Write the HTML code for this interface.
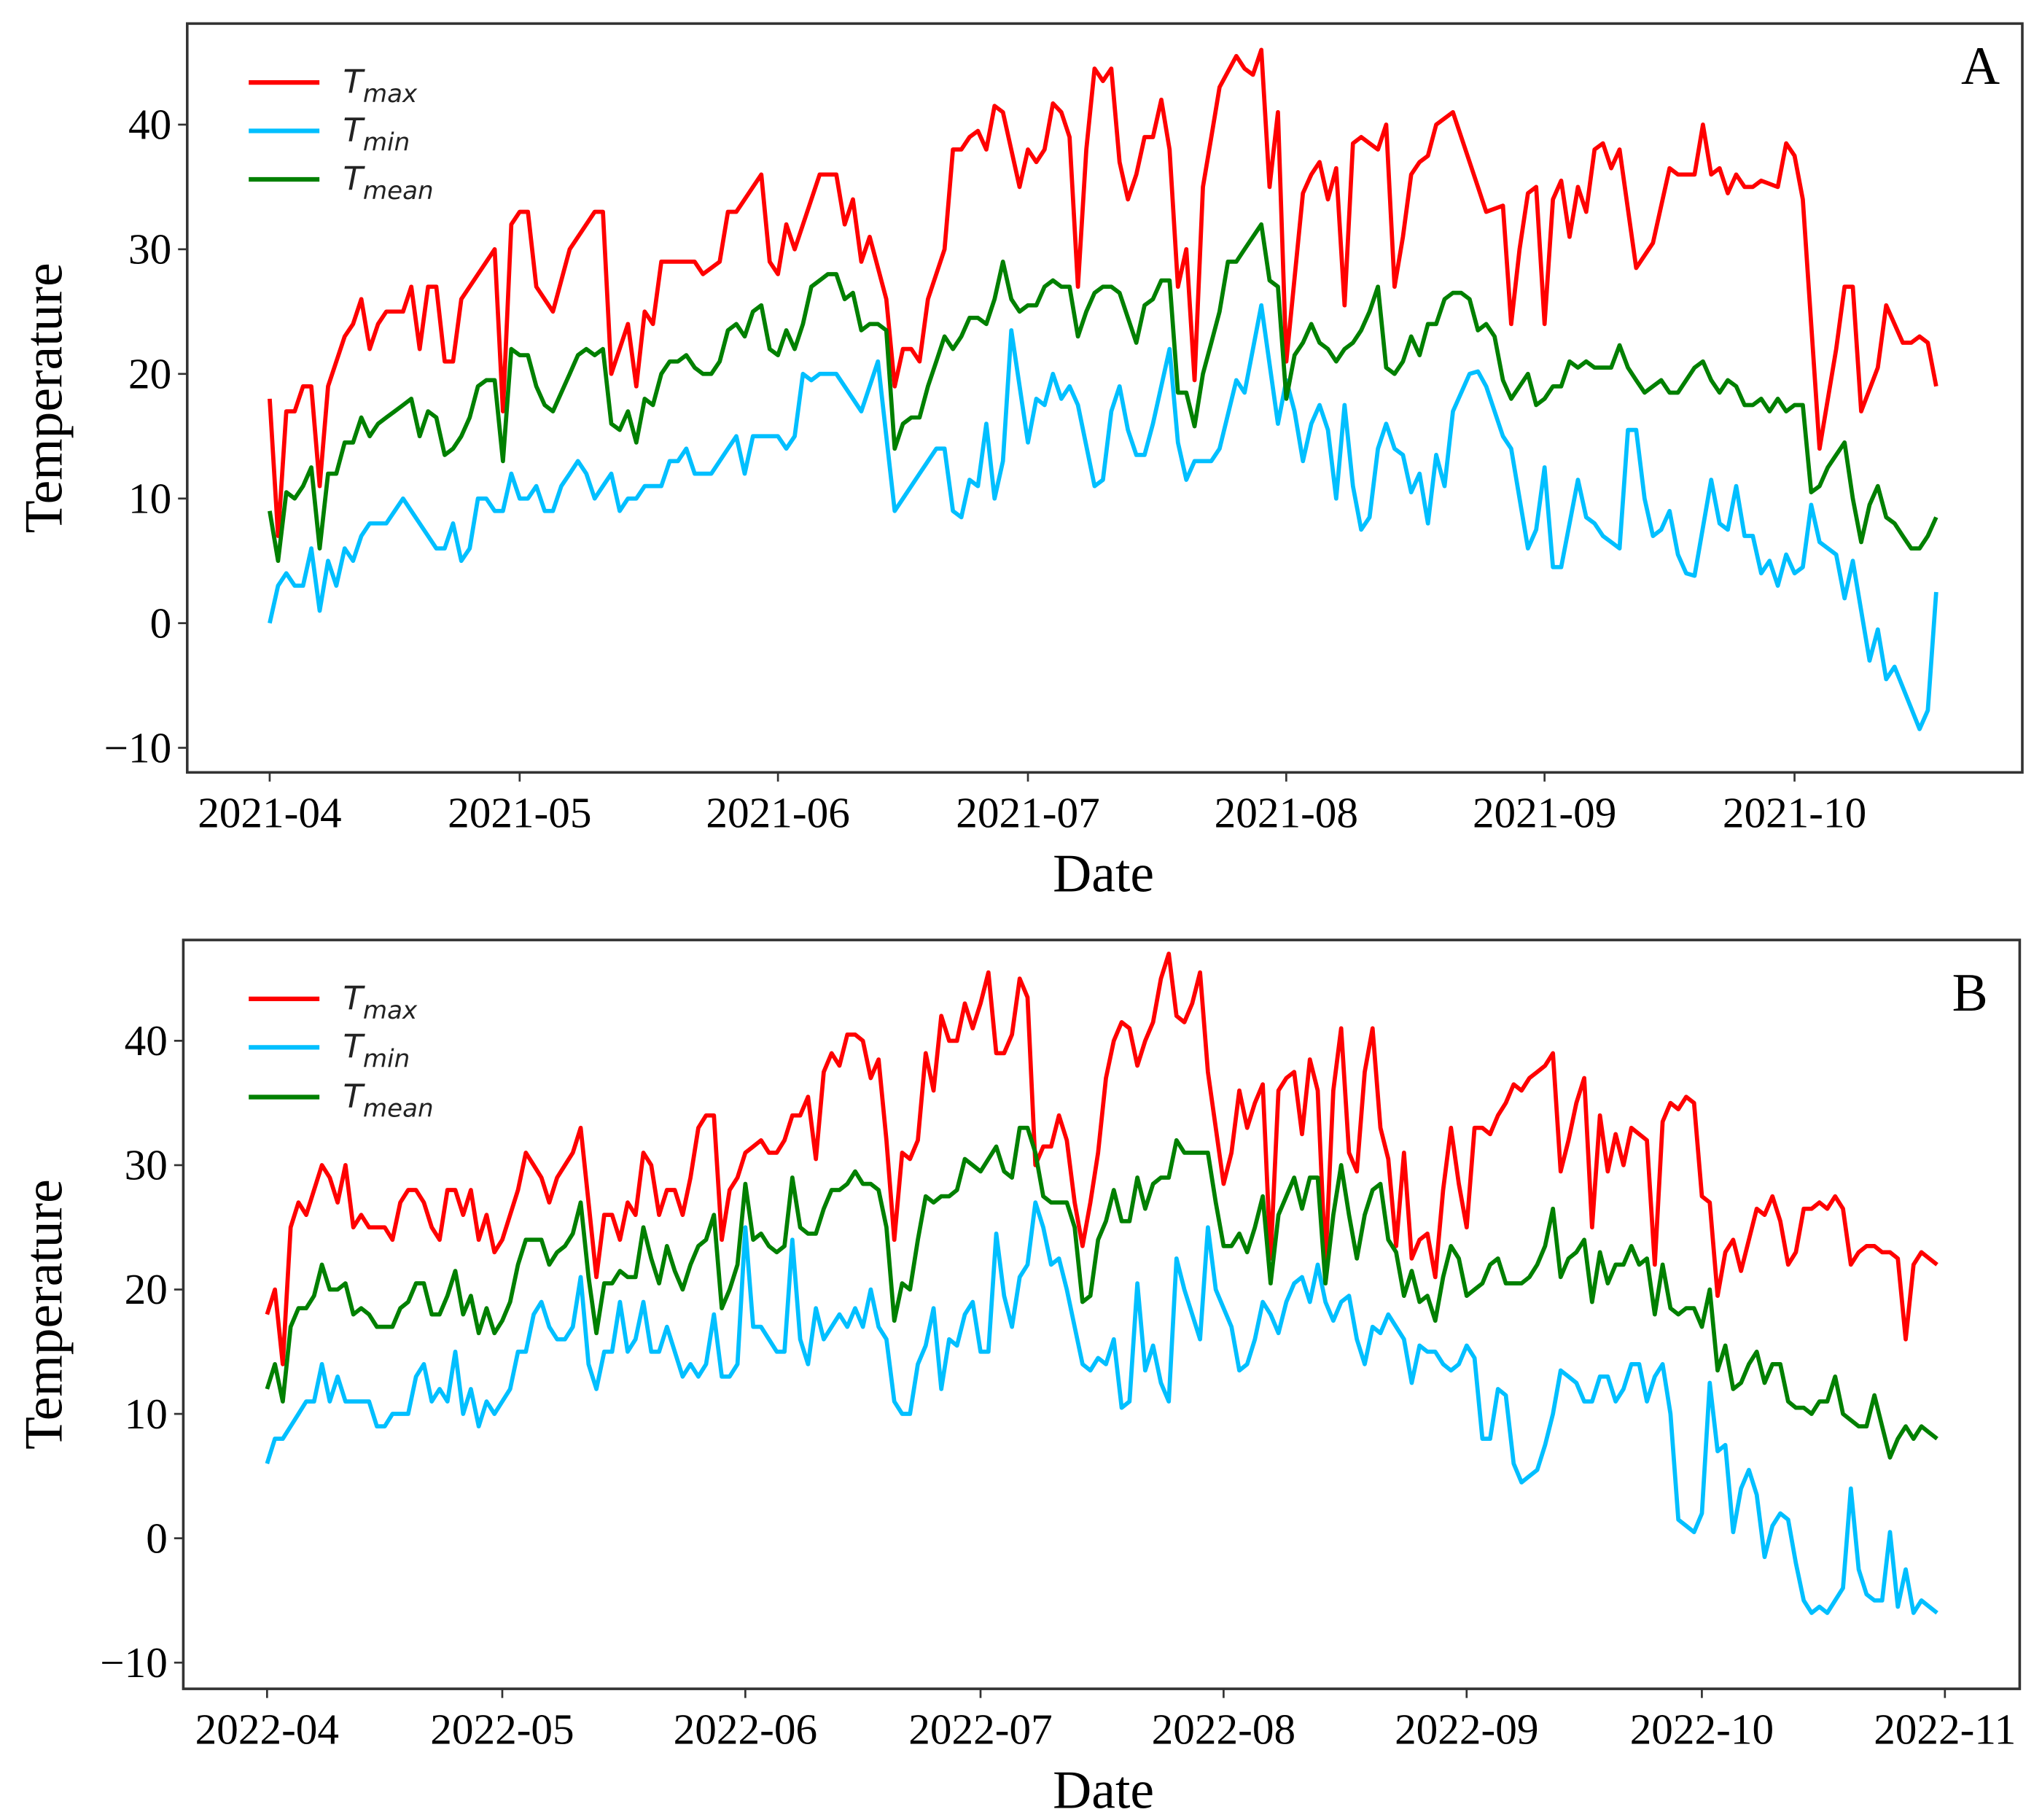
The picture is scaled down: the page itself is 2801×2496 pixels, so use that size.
<!DOCTYPE html>
<html><head><meta charset="utf-8"><style>
html,body{margin:0;padding:0;background:#fff;}
svg{display:block;}
.tk{font-family:"Liberation Serif",serif;font-size:33px;fill:#000;}
.ttl{font-family:"Liberation Serif",serif;font-size:41px;fill:#000;}
.lg{font-family:"DejaVu Sans",sans-serif;font-style:italic;fill:#222;}
</style></head><body>
<svg id="chart" width="2801" height="2496" viewBox="0 0 1560 1390.2" xmlns="http://www.w3.org/2000/svg"></svg>
<script>
// Panel A (2021) – day offsets from 2021-04-01
const monthLabelsA = ["2021-04","2021-05","2021-06","2021-07","2021-08","2021-09","2021-10"];
const monthDaysA = [0,30,61,91,122,153,183];
const monthLabelsB = ["2022-04","2022-05","2022-06","2022-07","2022-08","2022-09","2022-10","2022-11"];
const monthDaysB = [0,30,61,91,122,153,183,214];
const yTicks = [-10,0,10,20,30,40];

const tmaxDaysA = [0,1,2,3,4,5,6,7,9,10,11,12,13,14,16,17,18,19,20,21,22,23,27,28,29,30,31,32,34,36,39,40,41,43,44,45,46,47,51,52,54,55,56,59,60,61,62,63,66,68,69,70,71,72,74,75,76,77,78,79,81,82,83,84,85,86,87,88,90,91,92,93,94,95,96,97,98,99,100,101,102,103,104,105,106,107,108,109,110,111,112,113,114,116,117,118,119,120,121,122,124,125,126,127,128,129,130,131,132,133,134,135,136,137,138,139,140,142,145,146,148,149,150,151,152,153,154,155,156,157,158,159,160,161,162,164,166,168,169,171,172,173,174,175,176,177,178,179,181,182,183,184,186,188,189,190,191,193,194,196,197,198,199,200];
const tmaxA = [18,7,17,17,19,19,11,19,23,24,26,22,24,25,25,27,22,27,27,21,21,26,30,17,32,33,33,27,25,30,33,33,20,24,19,25,24,29,29,28,29,33,33,36,29,28,32,30,36,36,32,34,29,31,26,19,22,22,21,26,30,38,38,39,39.5,38,41.5,41,35,38,37,38,41.7,41,39,27,38,44.5,43.5,44.5,37,34,36,39,39,42,38,27,30,19.5,35,39,43,45.5,44.5,44,46,35,41,21,34.5,36,37,34,36.5,25.5,38.5,39,38.5,38,40,27,31,36,37,37.5,40,41,35,33,33.5,24,30,34.5,35,24,34,35.5,31,35,33,38,38.5,36.5,38,28.5,30.5,36.5,36,36,40,36,36.5,34.5,36,35,35,35.5,35,38.5,37.5,34,14,22,27,27,17,20.5,25.5,22.5,22.5,23,22.5,19];
const tmeanA = [9,5,10.5,10,11,12.5,6,12,12,14.5,14.5,16.5,15,16,16.5,17,17.5,18,15,17,16.5,13.5,14,15,16.5,19,19.5,19.5,13,22,21.5,21.5,19,17.5,17,18.5,20,21.5,22,21.5,22,16,15.5,17,14.5,18,17.5,20,21,21,21.5,20.5,20,20,21,23.5,24,23,25,25.5,22,21.5,23.5,22,24,27,27.5,28,28,26,26.5,23.5,24,24,23.5,14,16,16.5,16.5,19,21,23,22,23,24.5,24.5,24,26,29,26,25,25.5,25.5,27,27.5,27,27,23,25,26.5,27,27,26.5,24.5,22.5,25.5,26,27.5,27.5,18.5,18.5,15.8,20,22.5,25,29,29,30,31,32,27.5,27,18,21.5,22.5,24,22.5,22,21,22,22.5,23.5,25,27,20.5,20,21,23,21.5,24,24,26,26.5,26.5,26,23.5,24,23,19.5,18,19,20,17.5,18,19,19,21,20.5,21,20.5,20.5,20.5,22.3,20.5,19.5,18.5,19,19.5,18.5,18.5,19.5,20.5,21,19.5,18.5,19.5,19,17.5,17.5,18,17,18,17,17.5,17.5,10.5,11,12.5,13.5,14.5,10,6.5,9.5,11,8.5,8,7,6,6,7,8.5];
const tminDaysA = [0,1,2,3,4,5,6,7,8,9,10,11,12,14,15,16,17,19,20,21,22,23,24,25,26,27,28,29,30,31,32,33,34,35,36,37,38,39,40,41,42,43,44,45,46,47,48,49,50,51,52,53,55,56,57,58,59,61,62,63,64,65,66,67,68,70,71,73,75,78,80,81,82,83,84,85,86,87,88,89,91,92,93,94,95,96,97,99,100,101,102,103,104,105,106,108,109,110,111,113,114,116,117,118,119,121,122,123,124,125,126,127,128,129,130,131,132,133,134,135,136,137,138,139,140,141,142,144,145,146,148,149,151,152,153,154,155,157,158,159,160,161,162,163,164,165,166,167,168,169,170,171,173,174,175,176,177,178,179,180,181,182,183,184,185,186,188,189,190,192,193,194,195,198,199,200];
const tminA = [0,3,4,3,3,6,1,5,3,6,5,7,8,8,9,10,9,7,6,6,8,5,6,10,10,9,9,12,10,10,11,9,9,11,12,13,12,10,11,12,9,10,10,11,11,11,13,13,14,12,12,12,14,15,12,15,15,15,14,15,20,19.5,20,20,20,18,17,21,9,12,14,14,9,8.5,11.5,11,16,10,13,23.5,14.5,18,17.5,20,18,19,17.5,11,11.5,17,19,15.5,13.5,13.5,16,22,14.5,11.5,13,13,14,19.5,18.5,22,25.5,16,19.5,17,13,16,17.5,15.5,10,17.5,11,7.5,8.5,14,16,14,13.5,10.5,12,8,13.5,11,17,20,20.2,19,15,14,6,7.5,12.5,4.5,4.5,11.5,8.5,8,7,6.5,6,15.5,15.5,10,7,7.5,9,5.5,4,3.8,11.5,8,7.5,11,7,7,4,5,3,5.5,4,4.5,9.5,6.5,5.5,2,5,-3,-0.5,-4.5,-3.5,-8.5,-7,2.5];

// Panel B (2022) – daily from 2022-04-01
const tmaxB = [18,20,14,25,27,26,28,30,29,27,30,25,26,25,25,25,24,27,28,28,27,25,24,28,28,26,28,24,26,23,24,26,28,31,30,29,27,29,30,31,33,27,21,26,26,24,27,26,31,30,26,28,28,26,29,33,34,34,24,28,29,31,31.5,32,31,31,32,34,34,35.5,30.5,37.5,39,38,40.5,40.5,40,37,38.5,32,24,31,30.5,32,39,36,42,40,40,43,41,43,45.5,39,39,40.5,45,43.5,30,31.5,31.5,34,32,27,23.5,27,31,37,40,41.5,41,38,40,41.5,45,47,42,41.5,43,45.5,37.5,33,28.5,31,36,33,35,36.5,22.5,36,37,37.5,32.5,38.5,36,22,36,41,31,29.5,37.5,41,33,30.5,23.5,31,22.5,24,24.5,21,28,33,28.5,25,33,33,32.5,34,35,36.5,36,37,37.5,38,39,29.5,32,35,37,25,34,29.5,32.5,30,33,32.5,32,22,33.5,35,34.5,35.5,35,27.5,27,19.5,23,24,21.5,24,26.5,26,27.5,25.5,22,23,26.5,26.5,27,26.5,27.5,26.5,22,23,23.5,23.5,23,23,22.5,16,22,23,22.5,22];
const tmeanB = [12,14,11,17,18.5,18.5,19.5,22,20,20,20.5,18,18.5,18,17,17,17,18.5,19,20.5,20.5,18,18,19.5,21.5,18,19.5,16.5,18.5,16.5,17.5,19,22,24,24,24,22,23,23.5,24.5,27,21,16.5,20.5,20.5,21.5,21,21,25,22.5,20.5,23.5,21.5,20,22,23.5,24,26,18.5,20,22,28.5,24,24.5,23.5,23,23.5,29,25,24.5,24.5,26.5,28,28,28.5,29.5,28.5,28.5,28,25,17.5,20.5,20,24,27.5,27,27.5,27.5,28,30.5,30,29.5,30.5,31.5,29.5,29,33,33,31,27.5,27,27,27,25,19,19.5,24,25.5,28,25.5,25.5,29,26.5,28.5,29,29,32,31,31,31,31,27,23.5,23.5,24.5,23,25,27.5,20.5,26,27.5,29,26.5,29,29,20.5,26,30,26,22.5,26,28,28.5,24,23,19.5,21.5,19,19.5,17.5,21,23.5,22.5,19.5,20,20.5,22,22.5,20.5,20.5,20.5,21,22,23.5,26.5,21,22.5,23,24,19,23,20.5,22,22,23.5,22,22.5,18,22,18.5,18,18.5,18.5,17,20,13.5,15.5,12,12.5,14,15,12.5,14,14,11,10.5,10.5,10,11,11,13,10,9.5,9,9,11.5,9,6.5,8,9,8,9,8.5,8];
const tminB = [6,8,8,9,10,11,11,14,11,13,11,11,11,11,9,9,10,10,10,13,14,11,12,11,15,10,12,9,11,10,11,12,15,15,18,19,17,16,16,17,21,14,12,15,15,19,15,16,19,15,15,17,15,13,14,13,14,18,13,13,14,25,17,17,16,15,15,24,16,14,18.5,16,17,18,17,18.5,17,20,17,16,11,10,10,14,15.5,18.5,12,16,15.5,18,19,15,15,24.5,19.5,17,21,22,27,25,22,22.5,20,17,14,13.5,14.5,14,16,10.5,11,20.5,13.5,15.5,12.5,11,22.5,20,18,16,25,20,18.5,17,13.5,14,16,19,18,16.5,19,20.5,21,19,22,19,17.5,19,19.5,16,14,17,16.5,18,17,16,12.5,15.5,15,15,14,13.5,14,15.5,14.5,8,8,12,11.5,6,4.5,5,5.5,7.5,10,13.5,13,12.5,11,11,13,13,11,12,14,14,11,13,14,10,1.5,1,0.5,2,12.5,7,7.5,0.5,4,5.5,3.5,-1.5,1,2,1.5,-2,-5,-6,-5.5,-6,-5,-4,4,-2.5,-4.5,-5,-5,0.5,-5.5,-2.5,-6,-5,-5.5,-6];

const NS = "http://www.w3.org/2000/svg";
const svg = document.getElementById("chart");
function mk(tag, attrs, parent){const e=document.createElementNS(NS,tag);for(const k in attrs)e.setAttribute(k,attrs[k]);(parent||svg).appendChild(e);return e;}

const panels = [
 {id:"a", letter:"A", box:[143,18,1545,590], x0:206, dx:6.366, y0:476, dy:9.52, labels:monthLabelsA, ticks:monthDaysA, tickY:632, dateY:681, legY:[63,100,137], letterY:64, letterX:1513,
  series:[{n:"tmax",c:"#ff0000",d:tmaxDaysA,v:tmaxA},{n:"tmin",c:"#00bfff",d:tminDaysA,v:tminA},{n:"tmean",c:"#008000",d:null,v:tmeanA}]},
 {id:"b", letter:"B", box:[140,718,1543,1290], x0:204, dx:5.99, y0:1175, dy:9.5, labels:monthLabelsB, ticks:monthDaysB, tickY:1332, dateY:1381, legY:[763,800,838], letterY:772, letterX:1505,
  series:[{n:"tmax",c:"#ff0000",d:null,v:tmaxB},{n:"tmin",c:"#00bfff",d:null,v:tminB},{n:"tmean",c:"#008000",d:null,v:tmeanB}]}
];

panels.forEach(p=>{
  const g = mk("g",{});
  
  
  const xs = d => p.x0 + d*p.dx;
  const ys = v => p.y0 - v*p.dy;
  const [L,T,R,B] = p.box;
  p.series.forEach(s=>{
    const pts = s.v.map((v,i)=> xs(s.d? s.d[i] : i).toFixed(1)+","+ys(v).toFixed(1)).join(" ");
    const pl = mk("polyline",{points:pts,fill:"none",stroke:s.c,"stroke-width":3.2,"stroke-linejoin":"round"},g);
    
    
  });
  const frame = mk("rect",{x:L,y:T,width:R-L,height:B-T,fill:"none",stroke:"#333","stroke-width":2},g);
  
  
  yTicks.forEach(t=>{
    const y=ys(t);
    mk("line",{x1:L-7,x2:L,y1:y,y2:y,stroke:"#333","stroke-width":1.5},g);
    const tx = mk("text",{x:L-12,y:y+11,"text-anchor":"end",class:"tk"},g);
    tx.textContent = t<0 ? "\u2212"+Math.abs(t) : String(t);
    
    
  });
  p.ticks.forEach((d,i)=>{
    const x=xs(d);
    mk("line",{x1:x,x2:x,y1:B,y2:B+7,stroke:"#333","stroke-width":1.5},g);
    const tx = mk("text",{x:x,y:p.tickY,"text-anchor":"middle",class:"tk"},g);
    tx.textContent = p.labels[i];
    
    
  });
  const yt = mk("text",{x:0,y:0,"text-anchor":"middle",class:"ttl",transform:"translate(47,"+((T+B)/2)+") rotate(-90)"},g);
  yt.textContent = "Temperature";
  
  
  const xt = mk("text",{x:843,y:p.dateY,"text-anchor":"middle",class:"ttl"},g);
  xt.textContent = "Date";
  
  
  const lt = mk("text",{x:p.letterX,y:p.letterY,"text-anchor":"middle",class:"ttl","font-size":"42"},g);
  lt.textContent = p.letter;
  
  
  const subs=["max","min","mean"];
  p.series.forEach((s,i)=>{
    const y=p.legY[i];
    const le = mk("g",{},g);
    
    
    mk("line",{x1:190,x2:244,y1:y,y2:y,stroke:s.c,"stroke-width":3.5},le);
    const t = mk("text",{x:262,y:y+8,class:"lg","font-size":"25"},le);
    t.textContent="T";
    const sb = mk("tspan",{dy:"7","font-size":"19"},t);
    sb.textContent=subs[i];
  });
});
</script>
</body></html>
